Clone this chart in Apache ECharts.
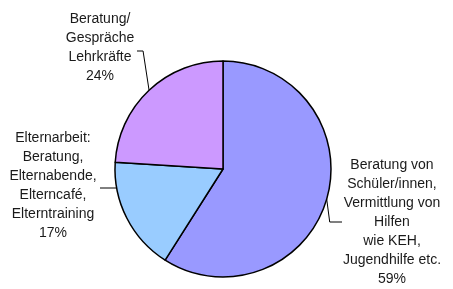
<!DOCTYPE html>
<html>
<head>
<meta charset="utf-8">
<script src="https://cdn.jsdelivr.net/npm/echarts@6/dist/echarts.min.js"></script>
<style>
html, body { margin: 0; padding: 0; background: #fff; }
#main { width: 453px; height: 289px; }
</style>
</head>
<body>
<div id="main"></div>
<script>
// Kategorien und Anteile in Prozent (im Uhrzeigersinn ab 12 Uhr)
var categories = [
    'Beratung von\nSchüler/innen,\nVermittlung von\nHilfen\nwie KEH,\nJugendhilfe etc.',
    'Elternarbeit:\nBeratung,\nElternabende,\nElterncafé,\nElterntraining',
    'Beratung/\nGespräche\nLehrkräfte'
];
var shares = [59, 17, 24];
var colors = ['#9999ff', '#99ccff', '#cc99ff'];

// Lage der Beschriftungen (Mittelpunkt des Textblocks) und Knick der Führungslinie
var labelPos = [[392, 222], [53, 186], [100, 48]];
var lineEnd = [[342, 222], [100, 188], [137, 51]];
var kinkDx = [3, -8, -6];

var data = [];
for (var i = 0; i < shares.length; i++) {
    data.push({ name: categories[i], value: shares[i], itemStyle: { color: colors[i] } });
}

var myChart = echarts.init(document.getElementById('main'));
var option = {
    animation: false,
    series: [
        {
            type: 'pie',
            center: [223, 169],
            radius: 108,
            startAngle: 90,
            clockwise: true,
            data: data,
            itemStyle: {
                borderColor: '#000',
                borderWidth: 1.5
            },
            label: {
                formatter: '{b}\n{c}%',
                fontFamily: 'Liberation Sans, Arial, sans-serif',
                fontSize: 14,
                lineHeight: 19,
                color: '#1a1a1a',
                align: 'center',
                overflow: 'none'
            },
            labelLine: {
                show: true,
                length: 15,
                length2: 8,
                lineStyle: { color: '#000', width: 1 }
            },
            labelLayout: function (params) {
                var i = params.dataIndex;
                var p = labelPos[i];
                var s = params.labelLinePoints ? params.labelLinePoints[0] : null;
                var res = {
                    x: p[0],
                    y: p[1],
                    width: 130,
                    align: 'center',
                    verticalAlign: 'middle'
                };
                if (s) {
                    res.labelLinePoints = [
                        [s[0], s[1]],
                        [s[0] + kinkDx[i], lineEnd[i][1]],
                        lineEnd[i]
                    ];
                }
                return res;
            }
        }
    ]
};
myChart.setOption(option);
</script>
</body>
</html>
